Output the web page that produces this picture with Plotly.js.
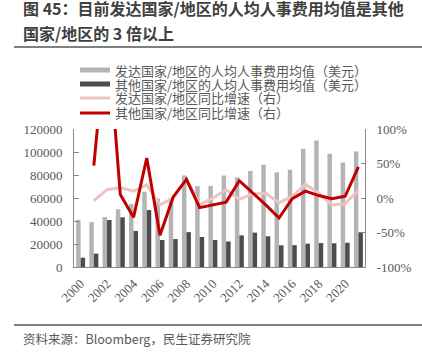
<!DOCTYPE html>
<html>
<head>
<meta charset="utf-8">
<script src="https://cdn.plot.ly/plotly-3.0.1.min.js"></script>
<style>
html,body{margin:0;padding:0;background:#fff;}
#chart{width:422px;height:355px;}
</style>
</head>
<body>
<div id="chart"></div>
<script>
// ---- data ----
const years = [2000,2001,2002,2003,2004,2005,2006,2007,2008,2009,2010,2011,2012,2013,2014,2015,2016,2017,2018,2019,2020,2021];
const developedAvg = [41000,39000,43500,50200,54800,65500,59500,60000,79600,70300,70500,79500,78000,83500,89000,82300,84600,102800,110000,98400,90900,100500];
const otherAvg = [8100,11600,40900,43200,31300,49500,23500,24300,30300,26100,23500,22200,27500,29900,26700,18900,19000,20300,20800,20600,21100,30200];
const developedYoY = [null,-4,12,15,10,19,-10,0,28,-10,0,12,-2,6,7,-7,2.5,20,7,-10,-8,11];
const otherYoY = [null,47,250,5,-28,58,-54,1.5,27,-14,-10,-6,25,8,-10,-29,-1,10,3.5,-1,2.5,45];
const leftTickVals = [0,20000,40000,60000,80000,100000,120000];
const leftTickText = ['0','20000','40000','60000','80000','100000','120000'];
const rightTickVals = [-1,-0.5,0,0.5,1];
const rightTickText = ['-100%','-50%','0%','50%','100%'];
const xTickVals = [2000,2002,2004,2006,2008,2010,2012,2014,2016,2018,2020];
const seriesNames = ['发达国家/地区的人均人事费用均值（美元）','其他国家/地区的人均人事费用均值（美元）','发达国家/地区同比增速（右）','其他国家/地区同比增速（右）'];
const titleLines = ['图 45：目前发达国家/地区的人均人事费用均值是其他','国家/地区的 3 倍以上'];
const sourceText = '资料来源：Bloomberg，民生证券研究院';

// ---- layout helpers (pixel -> paper) ----
const W = 422, H = 355;
const L = 74, R = 365, T = 129, B = 267;
const px = x => (x - L) / (R - L);
const py = y => (B - y) / (B - T);

const colors = ['#b4b4b4','#4d4d4d','#f0c2c2','#c00000'];
const grayText = '#595959';
const cjk = '"Noto Sans CJK SC", "Noto Sans", sans-serif';
const serif = '"Liberation Serif", "DejaVu Serif", serif';

const traces = [
  {type:'bar', x: years, y: developedAvg, name: seriesNames[0], marker:{color:colors[0]}, yaxis:'y', xaxis:'x', showlegend:false},
  {type:'bar', x: years, y: otherAvg, name: seriesNames[1], marker:{color:colors[1]}, yaxis:'y', xaxis:'x', showlegend:false},
  {type:'scatter', mode:'lines', x: years, y: developedYoY.map(v => v === null ? null : v/100), name: seriesNames[2], line:{color:colors[2], width:3}, yaxis:'y2', xaxis:'x', showlegend:false, connectgaps:false},
  {type:'scatter', mode:'lines', x: years, y: otherYoY.map(v => v === null ? null : v/100), name: seriesNames[3], line:{color:colors[3], width:3}, yaxis:'y2', xaxis:'x', showlegend:false, connectgaps:false}
];

// manual legend
const legendRows = [70, 84, 98, 113];
const shapes = [];
const annotations = [];
legendRows.forEach((ry, i) => {
  if (i < 2) {
    shapes.push({type:'rect', xref:'paper', yref:'paper', x0:px(80), x1:px(110), y0:py(ry+2.5), y1:py(ry-2.5), fillcolor:colors[i], line:{width:0}});
  } else {
    shapes.push({type:'line', xref:'paper', yref:'paper', x0:px(80), x1:px(110), y0:py(ry), y1:py(ry), line:{color:colors[i], width:3}});
  }
  annotations.push({xref:'paper', yref:'paper', x:px(113), y:py(ry), xanchor:'left', yanchor:'middle', showarrow:false,
    text: seriesNames[i], font:{family:cjk, size:13, color:grayText}});
});

// title and rules
annotations.push({xref:'paper', yref:'paper', x:px(21), y:py(8), xanchor:'left', yanchor:'middle', showarrow:false,
  text:'<b>'+titleLines[0]+'</b>', font:{family:cjk, size:16, color:'#404040'}});
annotations.push({xref:'paper', yref:'paper', x:px(21), y:py(33), xanchor:'left', yanchor:'middle', showarrow:false,
  text:'<b>'+titleLines[1]+'</b>', font:{family:cjk, size:16, color:'#404040'}});
shapes.push({type:'line', xref:'paper', yref:'paper', x0:px(14), x1:px(422), y0:py(47), y1:py(47), line:{color:'#808080', width:2}});
shapes.push({type:'line', xref:'paper', yref:'paper', x0:px(14), x1:px(422), y0:py(325), y1:py(325), line:{color:'#808080', width:2}});
annotations.push({xref:'paper', yref:'paper', x:px(21), y:py(338), xanchor:'left', yanchor:'middle', showarrow:false,
  text: sourceText, font:{family:cjk, size:12.5, color:grayText}});

const layout = {
  width: W, height: H,
  margin: {l: L, r: W - R, t: T, b: H - B, pad: 0},
  paper_bgcolor: '#fff', plot_bgcolor: '#fff',
  barmode: 'group', bargap: 0.32, bargroupgap: 0,
  showlegend: false,
  xaxis: {
    range: [1999.5, 2021.5], tickvals: xTickVals, ticktext: xTickVals.map(String),
    tickangle: -45, ticks: '', showgrid: false, zeroline: false,
    showline: true, linecolor: '#888888', linewidth: 1,
    tickfont: {family: serif, size: 13, color: grayText}, ticklabelstandoff: 3
  },
  xaxis2: {
    overlaying: 'x', anchor: 'y', side: 'bottom', matches: 'x',
    tick0: 1999.5, dtick: 2, ticks: 'inside', ticklen: 3, tickcolor: '#888888',
    showticklabels: false, showgrid: false, zeroline: false, showline: false
  },
  yaxis: {
    range: [0, 120000], tickvals: leftTickVals, ticktext: leftTickText,
    ticks: 'inside', ticklen: 5, tickcolor: '#888888',
    showline: true, linecolor: '#888888', linewidth: 1,
    showgrid: false, zeroline: false,
    tickfont: {family: serif, size: 13, color: grayText}, ticklabelstandoff: 8
  },
  yaxis2: {
    overlaying: 'y', side: 'right', range: [-1, 1],
    tickvals: rightTickVals, ticktext: rightTickText,
    ticks: 'inside', ticklen: 4, tickcolor: '#888888',
    showline: true, linecolor: '#888888', linewidth: 1,
    showgrid: false, zeroline: false,
    tickfont: {family: serif, size: 13, color: grayText}, ticklabelstandoff: 8
  },
  shapes: shapes,
  annotations: annotations
};

Plotly.newPlot('chart', traces, layout, {displayModeBar: false, staticPlot: true});
</script>
</body>
</html>
